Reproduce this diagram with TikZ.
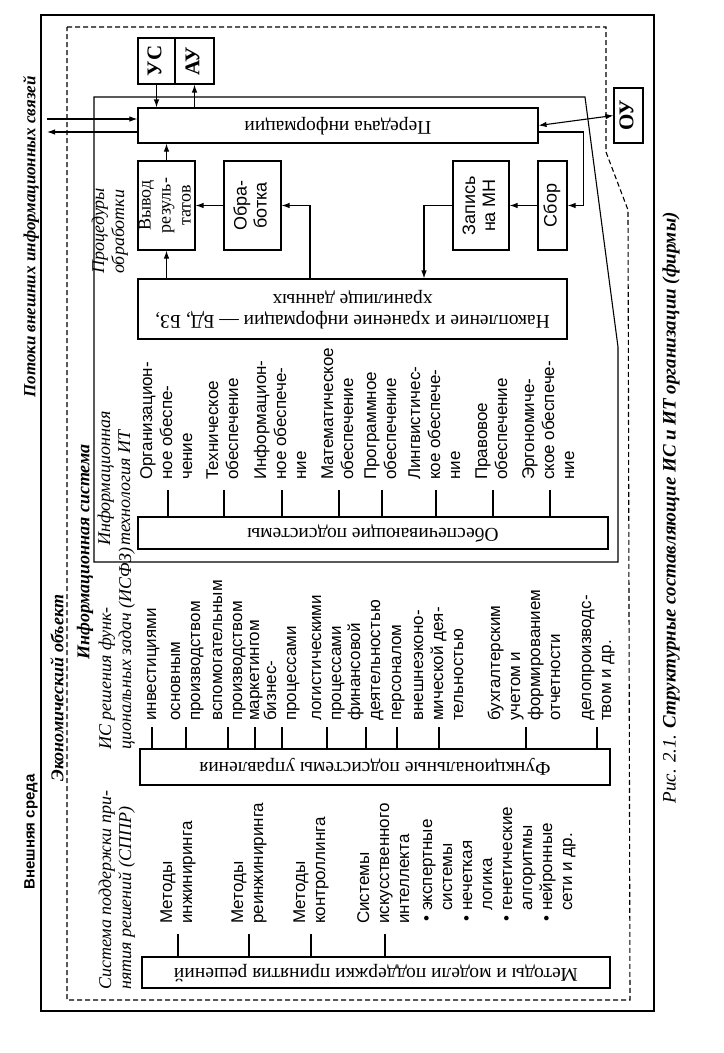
\documentclass[tikz,border=0pt]{standalone}
\usepackage{fontspec}
\setmainfont{Liberation Serif}
\newfontfamily\sansf{Liberation Sans}
\usepackage{graphicx}
\usetikzlibrary{arrows.meta}
\newcommand\rotL[1]{\rotatebox{90}{\begin{tabular}{@{}l@{}}#1\end{tabular}}}
\newcommand\rotC[1]{\makebox[0pt]{\rotatebox{90}{\begin{tabular}{@{}c@{}}#1\end{tabular}}}}
\newcommand\rotH[1]{\makebox[0pt]{\rotatebox{180}{\begin{tabular}{@{}c@{}}#1\end{tabular}}}}
\newcommand\fsz{\fontsize{18bp}{20bp}\selectfont}
\newcommand\fsbar{\fontsize{19.5bp}{21bp}\selectfont}
\newcommand\fsl{\fontsize{17bp}{20bp}\selectfont}
\newcommand\fsb{\fontsize{21bp}{24bp}\selectfont}
\newcommand\fsf{\fontsize{18bp}{20bp}\selectfont}
\newcommand\fscap{\fontsize{19bp}{22bp}\selectfont}
\begin{document}
\begin{tikzpicture}[x=1bp,y=-1bp,
 ln/.style={line width=1.1bp},
 arr/.style={ln,-{Latex[length=8bp,width=5.5bp]}},
 darr/.style={ln,{Latex[length=8bp,width=5.5bp]}-{Latex[length=8bp,width=5.5bp]}},
 box/.style={draw,ln,inner sep=0pt,font=\fsz},
 sbox/.style={box,font=\sansf\fsz},
 kbox/.style={box,font=\bfseries\fsb},
 bar/.style={box,font=\fsbar},
 lab/.style={inner sep=0pt,anchor=south,font=\sansf\fsl},
 ilab/.style={inner sep=0pt,anchor=south,font=\itshape\fsz},
 flab/.style={inner sep=0pt,font=\bfseries\itshape\fsf},
]
\useasboundingbox (0,0) rectangle (724,1053);
% frames
\draw[ln] (41,15) rectangle (654,1011);
\draw[ln,dash pattern=on 5bp off 3bp] (67,27) -- (606,27) -- (606,152) -- (628,210) -- (630,1000) -- (67,1000) -- cycle;
\draw[ln] (94,97) -- (585,97) -- (618,347) -- (618,562) -- (94,562) -- cycle;
% frame labels
\node[inner sep=0pt,font=\bfseries\itshape\fsl] (potoki) at (31,237) {\rotatebox{90}{Потоки внешних информационных связей}};
\node[inner sep=0pt,font=\sansf\bfseries\fontsize{15bp}{18bp}\selectfont] (vneshn) at (31,832) {\rotatebox{90}{Внешняя среда}};
\node[flab] (econ) at (57,688) {\rotatebox{90}{Экономический объект}};
\node[flab] (infsys) at (85,552) {\rotatebox{90}{Информационная система}};
\node[inner sep=0pt,font=\itshape\fscap] (caption) at (671,508) {\rotatebox{90}{Рис. 2.1. {\bfseries Структурные составляющие ИС и ИТ организации (фирмы)}}};
% boxes
\node[kbox,minimum width=37bp,minimum height=46bp] (us) at (156.5,61) {\rotC{УС}};
\node[kbox,minimum width=39bp,minimum height=46bp] (au) at (194.5,61) {\rotC{АУ}};
\node[kbox,minimum width=29bp,minimum height=55bp] (ou) at (628.5,115.5) {\rotC{ОУ}};
\node[bar,minimum width=400bp,minimum height=35bp] (per) at (338,125.5) {\rotH{Передача информации}};
\node[box,minimum width=57bp,minimum height=89bp] (vyv) at (166.5,205.5) {\rotC{Вывод\\резуль-\\татов}};
\node[sbox,minimum width=57bp,minimum height=89bp] (obr) at (252.5,205.5) {\rotC{Обра-\\ботка}};
\node[sbox,minimum width=56bp,minimum height=89bp] (zap) at (481,205.5) {\rotC{Запись\\на МН}};
\node[sbox,minimum width=29bp,minimum height=89bp] (sbor) at (552.5,205.5) {\rotC{Сбор}};
\node[bar,minimum width=429bp,minimum height=60bp] (nak) at (352.5,309) {\rotH{Накопление и хранение информации — БД, БЗ,\\хранилище данных}};
\node[bar,minimum width=470bp,minimum height=32bp] (obesp) at (373,533) {\rotH{Обеспечивающие подсистемы}};
\node[bar,minimum width=470bp,minimum height=36bp] (func) at (375,767) {\rotH{Функциональные подсистемы управления}};
\node[bar,minimum width=468bp,minimum height=31bp] (metod) at (376,972.5) {\rotH{Методы и модели поддержки принятия решений}};
% connectors
\coordinate (extin) at (47,119);
\coordinate (extout) at (47,132);
\draw[arr] (us.south) -- (us.south |- per.north);
\draw[arr] (au.south |- per.north) -- (au.south);
\draw[arr] (extin) -- (extin -| per.west);
\draw[arr] (extout -| per.west) -- (extout);
\draw[darr] (per.east) -- (ou.west);
\draw[arr] (extout -| per.east) -- ++(45,0) |- (sbor.east);
\draw[arr] (sbor.west) -- (zap.east);
\draw[arr] (zap.west) -| ([xshift=71.5bp]nak.north);
\draw[arr] ([xshift=-42.5bp]nak.north) |- (obr.east);
\draw[arr] (obr.west) -- (vyv.east);
\draw[arr] (vyv.south |- nak.north) -- (vyv.south);
\draw[arr] (vyv.north) -- (vyv.north |- per.south);
% italic labels
\node[ilab] (proc) at (110,274) {\rotL{Процедуры\\обработки}};
\node[ilab] (itlab) at (116,546) {\rotL{Информационная\\технология ИТ}};
\node[ilab] (isfz) at (117,750) {\rotL{ИС решения функ-\\циональных задач (ИСФЗ)}};
\node[ilab] (sppr) at (117,990) {\rotL{Система поддержки при-\\нятия решений (СППР)}};
% support subsystems
\node[lab] (s1) at (168,480) {\rotL{Организацион-\\ное обеспе-\\чение}};
\node[lab] (s2) at (224,480) {\rotL{Техническое\\обеспечение}};
\node[lab] (s3) at (282,480) {\rotL{Информацион-\\ное обеспече-\\ние}};
\node[lab] (s4) at (339,480) {\rotL{Математическое\\обеспечение}};
\node[lab] (s5) at (382,480) {\rotL{Программное\\обеспечение}};
\node[lab] (s6) at (436,480) {\rotL{Лингвистичес-\\кое обеспече-\\ние}};
\node[lab] (s7) at (493,480) {\rotL{Правовое\\обеспечение}};
\node[lab] (s8) at (550,480) {\rotL{Эргономиче-\\ское обеспече-\\ние}};
\foreach \n in {1,...,8} \draw[ln] ([yshift=-10bp]s\n.south) -- (s\n.south |- obesp.north);
% functional subsystems
\node[lab] (f1) at (152,721) {\rotL{инвестициями}};
\node[lab] (f2) at (186,721) {\rotL{основным\\производством}};
\node[lab] (f3) at (228,721) {\rotL{вспомогательным\\производством}};
\node[lab] (f4) at (255,721) {\rotL{маркетингом}};
\node[lab] (f5) at (282,721) {\rotL{бизнес-\\процессами}};
\node[lab] (f6) at (327,721) {\rotL{логистическими\\процессами}};
\node[lab] (f7) at (366,721) {\rotL{финансовой\\деятельностью}};
\node[lab] (f8) at (397,721) {\rotL{персоналом}};
\node[lab] (f9) at (439,721) {\rotL{внешнеэконо-\\мической дея-\\тельностью}};
\node[lab] (f10) at (526,721) {\rotL{бухгалтерским\\учетом и\\формированием\\отчетности}};
\node[lab] (f11) at (597,721) {\rotL{делопроизводс-\\твом и др.}};
\foreach \n in {1,...,11} \draw[ln] ([yshift=-6bp]f\n.south) -- (f\n.south |- func.north);
% decision support
\node[lab] (d1) at (178,924) {\rotL{Методы\\инжиниринга}};
\node[lab] (d2) at (249,924) {\rotL{Методы\\реинжиниринга}};
\node[lab] (d3) at (311,924) {\rotL{Методы\\контроллинга}};
\node[lab] (d4) at (385,924) {\rotL{Системы\\искусственного\\интеллекта}};
\foreach \n in {1,...,4} \draw[ln] ([yshift=-10bp]d\n.south) -- (d\n.south |- metod.north);
\node[lab] (bul) at (498,922) {\rotatebox{90}{\begin{tabular}{@{}l@{\hspace{5bp}}l@{}}•&экспертные\\ &системы\\ •&нечеткая\\ &логика\\ •&генетические\\ &алгоритмы\\ •&нейронные\\ &сети и др.\end{tabular}}};
\end{tikzpicture}
\end{document}
